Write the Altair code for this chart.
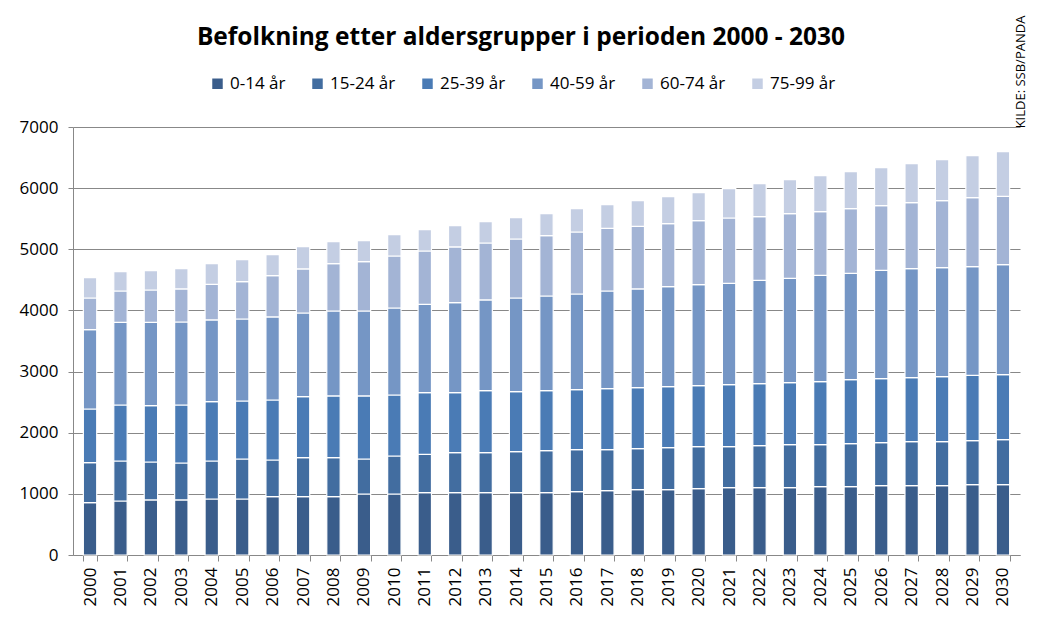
import altair as alt
import pandas as pd

years = [str(y) for y in range(2000, 2031)]
groups = ["0-14 år", "15-24 år", "25-39 år", "40-59 år", "60-74 år", "75-99 år"]
colors = ["#3A5D8B", "#426DA0", "#4A7BB5", "#7596C5", "#A3B4D5", "#C4CEE3"]
source_note = ["KILDE: SSB/PANDA"]
title_text = ["Befolkning etter aldersgrupper i perioden 2000 - 2030"]

g0_14 = [856, 883, 900, 900, 916, 916, 954, 954, 954, 998, 998, 1020, 1020, 1020, 1020, 1020,
         1036, 1052, 1069, 1069, 1085, 1101, 1101, 1101, 1118, 1118, 1134, 1134, 1134, 1150, 1150]
g15_24 = [654, 654, 621, 605, 621, 654, 600, 638, 638, 572, 621, 627, 654, 654, 670, 686,
          687, 671, 670, 687, 687, 671, 687, 704, 687, 703, 703, 720, 720, 720, 736]
g25_39 = [878, 916, 921, 948, 971, 949, 981, 998, 1009, 1031, 998, 1008, 981, 1014, 981, 982,
          981, 998, 998, 997, 998, 1014, 1014, 1014, 1030, 1047, 1047, 1046, 1063, 1069, 1064]
g40_59 = [1298, 1352, 1363, 1358, 1336, 1341, 1358, 1368, 1390, 1390, 1423, 1445, 1472, 1483, 1532, 1548,
          1565, 1597, 1614, 1636, 1652, 1657, 1690, 1706, 1739, 1739, 1772, 1783, 1783, 1777, 1799]
g60_74 = [517, 513, 529, 540, 583, 611, 676, 720, 774, 807, 850, 872, 911, 932, 965, 987,
          1014, 1025, 1025, 1030, 1046, 1069, 1042, 1058, 1042, 1058, 1058, 1080, 1095, 1129, 1117]
g75_99 = [333, 316, 317, 332, 338, 359, 343, 365, 360, 343, 349, 349, 349, 349, 349, 360,
          382, 387, 419, 442, 458, 480, 540, 556, 588, 605, 621, 638, 671, 687, 731]

series = [g0_14, g15_24, g25_39, g40_59, g60_74, g75_99]
rows = []
for gi, (g, vals) in enumerate(zip(groups, series)):
    for y, v in zip(years, vals):
        rows.append({"År": y, "Aldersgruppe": g, "Befolkning": v, "rekkefolge": gi})
df = pd.DataFrame(rows)

FONT = "Open Sans"

bars = alt.Chart(df).mark_bar(stroke="white", strokeWidth=1.2).encode(
    x=alt.X("År:N", sort=years,
            scale=alt.Scale(paddingInner=0.56, paddingOuter=0.34),
            axis=alt.Axis(title=None, labelAngle=-90, labelFontSize=17, labelColor="black",
                          labelFont=FONT, labelPadding=6, domainColor="#888888",
                          tickColor="#888888", tickSize=6, tickBand="extent",
                          labelBaseline="middle", labelAlign="right")),
    y=alt.Y("Befolkning:Q", stack="zero",
            scale=alt.Scale(domain=[0, 7000], nice=False),
            axis=alt.Axis(title=None, values=list(range(0, 7001, 1000)), format="d",
                          labelFontSize=17, labelColor="black", labelFont=FONT,
                          labelPadding=10, domainColor="#888888", tickColor="#888888",
                          tickSize=5, gridColor="#888888", gridWidth=1.2)),
    color=alt.Color("Aldersgruppe:N", sort=groups,
                    scale=alt.Scale(domain=groups, range=colors),
                    legend=alt.Legend(title=None, orient="none", direction="horizontal",
                                      columns=6, legendX=136, legendY=-52,
                                      symbolType="square", symbolSize=110,
                                      symbolStrokeWidth=0, labelFontSize=17,
                                      labelFont=FONT, labelColor="black",
                                      columnPadding=23, symbolOpacity=1)),
    order=alt.Order("rekkefolge:Q", sort="ascending"),
)

note = alt.Chart(pd.DataFrame({"t": source_note})).mark_text(
    angle=270, fontSize=13, font=FONT, color="black", align="center", baseline="middle"
).encode(text="t:N", x=alt.value(948), y=alt.value(-55))

title = alt.Chart(pd.DataFrame({"t": title_text})).mark_text(
    fontSize=24.5, font=FONT, fontWeight="bold", color="black", align="center", baseline="middle"
).encode(text="t:N", x=alt.value(448), y=alt.value(-89))

chart = alt.layer(bars, note, title).properties(
    width=947,
    height=428,
    autosize=alt.AutoSizeParams(type="none"),
    padding={"left": 65, "top": 119, "right": 10, "bottom": 60},
).configure_view(stroke=None)

chart.save("out.html", embed_options={"renderer": "svg", "actions": False})
